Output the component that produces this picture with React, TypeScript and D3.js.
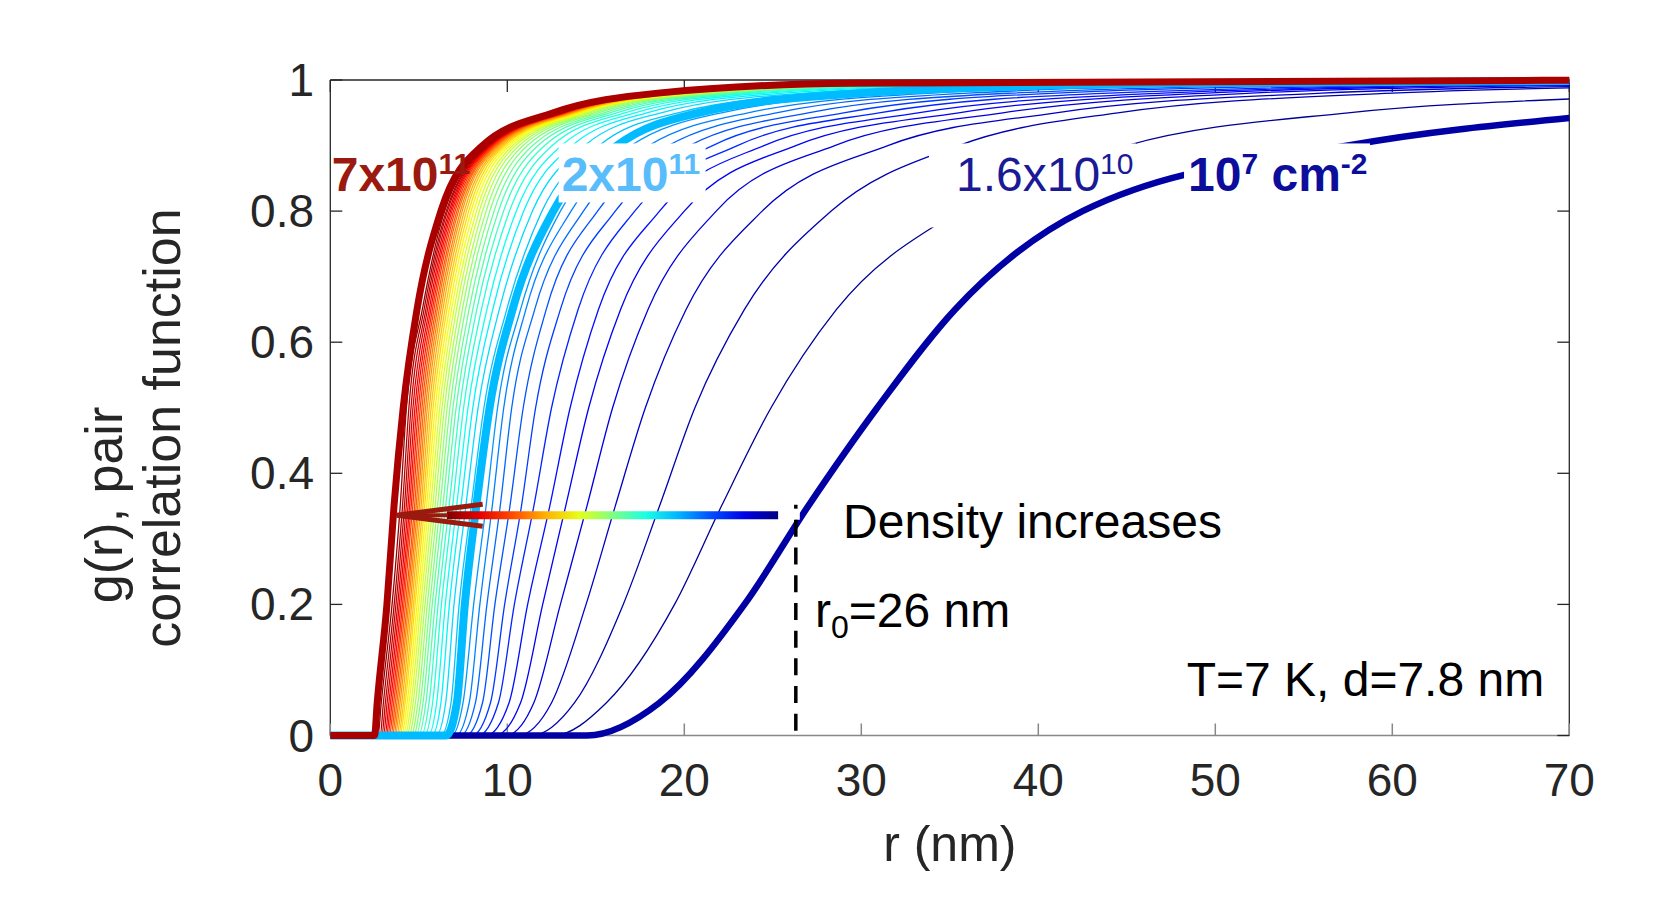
import React, { useEffect } from "react";
import { scaleLinear, line as d3line, curveMonotoneX } from "d3";

const W = 1656;
const H = 924;
const M = { left: 330.3, right: 1569.3, top: 80, bottom: 735.5 };
const FONT = '"Liberation Sans", Arial, Helvetica, sans-serif';
const INK = "#262626";

// One entry per density, from 10^7 cm^-2 (index 0) up to 7x10^11 cm^-2 (index 44).
// Each array gives the r (nm) at which a curve reaches the given g level.
const rOnset = [
  14.5, 12.6, 11.4, 10.6, 9.9, 9.3, 8.8, 8.35, 8.0, 7.65, 7.35, 7.1, 6.85, 6.55,
  6.25, 5.98, 5.74, 5.52, 5.32, 5.14, 4.98, 4.83, 4.7, 4.57, 4.44, 4.33, 4.23, 4.12, 4.02, 3.93,
  3.84, 3.75, 3.66, 3.58, 3.5, 3.42, 3.33, 3.25, 3.17, 3.09, 3.0, 2.91, 2.82, 2.7, 2.5,
];
const r05 = [
  18.6, 15.6, 13.8, 12.5, 11.5, 10.75, 10.1, 9.5, 9.05, 8.6, 8.2, 7.85, 7.5, 7.15,
  6.82, 6.52, 6.25, 6.01, 5.78, 5.58, 5.4, 5.24, 5.09, 4.95, 4.81, 4.68, 4.57, 4.45, 4.34, 4.23,
  4.14, 4.04, 3.94, 3.85, 3.76, 3.67, 3.58, 3.49, 3.4, 3.31, 3.21, 3.11, 3.0, 2.88, 2.65,
];
const r20 = [
  23.4, 19.45, 16.55, 14.45, 13.0, 12.0, 11.15, 10.4, 9.85, 9.3, 8.85, 8.45, 8.1, 7.6,
  7.28, 6.99, 6.73, 6.5, 6.28, 6.09, 5.92, 5.76, 5.62, 5.48, 5.35, 5.23, 5.11, 5.0, 4.9, 4.79,
  4.7, 4.6, 4.51, 4.42, 4.34, 4.25, 4.16, 4.08, 3.99, 3.9, 3.81, 3.71, 3.61, 3.49, 3.2,
];
const r35 = [
  27.0, 22.1, 18.6, 16.1, 14.5, 13.3, 12.4, 11.5, 10.8, 10.15, 9.6, 9.15, 8.8, 8.25,
  7.96, 7.66, 7.38, 7.14, 6.91, 6.71, 6.52, 6.36, 6.2, 6.06, 5.92, 5.79, 5.67, 5.55, 5.44, 5.33,
  5.23, 5.13, 5.03, 4.94, 4.85, 4.76, 4.66, 4.57, 4.48, 4.39, 4.29, 4.19, 4.08, 3.95, 3.6,
];
const r50 = [
  30.9, 24.9, 20.6, 17.8, 15.95, 14.6, 13.55, 12.5, 11.6, 10.9, 10.25, 9.8, 9.45, 9.0,
  8.68, 8.35, 8.05, 7.78, 7.53, 7.31, 7.11, 6.93, 6.76, 6.6, 6.45, 6.31, 6.18, 6.05, 5.93, 5.81,
  5.7, 5.59, 5.48, 5.38, 5.28, 5.18, 5.08, 4.98, 4.88, 4.78, 4.67, 4.56, 4.44, 4.3, 4.12,
];
const r65 = [
  35.3, 28.6, 23.4, 20.1, 17.95, 16.4, 15.15, 14.0, 13.0, 12.2, 11.55, 11.05, 10.75, 10.3,
  9.97, 9.55, 9.18, 8.85, 8.54, 8.28, 8.05, 7.84, 7.64, 7.46, 7.29, 7.13, 6.99, 6.85, 6.72, 6.59,
  6.48, 6.36, 6.25, 6.15, 6.05, 5.96, 5.86, 5.77, 5.68, 5.59, 5.49, 5.4, 5.3, 5.2, 4.9,
];
const r80 = [
  42.5, 35.5, 28.3, 24.4, 21.8, 20.0, 18.6, 17.2, 16.1, 15.1, 14.3, 13.6, 13.0, 12.6,
  11.96, 11.42, 10.93, 10.51, 10.12, 9.79, 9.5, 9.25, 9.01, 8.8, 8.6, 8.42, 8.26, 8.1, 7.95, 7.82,
  7.69, 7.57, 7.45, 7.35, 7.24, 7.15, 7.05, 6.96, 6.87, 6.79, 6.71, 6.62, 6.55, 6.46, 6.25,
];
const r90 = [
  57.5, 45.0, 35.5, 31.5, 28.5, 26.3, 24.5, 23.0, 21.6, 20.3, 19.1, 18.0, 17.0, 16.2,
  15.2, 14.37, 13.66, 13.06, 12.54, 12.11, 11.74, 11.43, 11.14, 10.89, 10.67, 10.47, 10.31, 10.14, 10.0, 9.86,
  9.75, 9.64, 9.53, 9.44, 9.36, 9.29, 9.22, 9.15, 9.09, 9.04, 8.99, 8.95, 8.91, 8.87, 8.6,
];
const r95 = [
  null, 57.5, 44.5, 41.0, 38.0, 35.5, 33.2, 31.0, 29.0, 27.0, 25.2, 23.6, 22.1, 20.8,
  19.64, 18.69, 17.88, 17.21, 16.64, 16.17, 15.78, 15.45, 15.15, 14.9, 14.67, 14.47, 14.3, 14.14, 14.0, 13.87,
  13.76, 13.66, 13.56, 13.48, 13.41, 13.34, 13.28, 13.23, 13.18, 13.14, 13.1, 13.06, 13.04, 13.01, 12.6,
];
const r98 = [
  null, null, 60.0, 56.0, 52.0, 49.5, 47.0, 44.0, 41.0, 38.5, 36.0, 34.0, 32.0, 30.0,
  28.22, 26.78, 25.59, 24.61, 23.79, 23.11, 22.55, 22.09, 21.68, 21.33, 21.04, 20.77, 20.54, 20.34, 20.16, 20.0,
  19.86, 19.73, 19.62, 19.52, 19.44, 19.36, 19.29, 19.23, 19.18, 19.13, 19.09, 19.06, 19.03, 19.01, 18.5,
];
const r995 = [
  null, null, null, null, null, null, null, null, 65.0, 61.0, 57.0, 54.0, 50.8, 47.6,
  44.8, 42.5, 40.6, 39.1, 37.8, 36.7, 35.8, 35.1, 34.4, 33.9, 33.4, 33.0, 32.6, 32.3, 32.0, 31.7,
  31.5, 31.3, 31.1, 31.0, 30.9, 30.7, 30.6, 30.5, 30.4, 30.4, 30.3, 30.2, 30.2, 30.2, 29.5,
];
// g(r) at r = 70 nm
const g70 = [
  0.942, 0.971, 0.988, 0.99, 0.992, 0.993, 0.994, 0.995, 0.996, 0.9965, 0.997, 0.9975, 0.998, 0.9984,
  0.999, 0.999, 0.999, 0.999, 0.999, 0.999, 0.999, 0.9993, 0.9993, 0.9993, 0.9993, 0.9993, 0.9993, 0.9993, 0.9993, 0.9993,
  0.9993, 0.9993, 0.9993, 0.9993, 0.9993, 0.9993, 0.9993, 0.9993, 0.9993, 0.9993, 0.9993, 0.9993, 0.9993, 0.9993, 0.9996,
];

const gLevels = [0.05, 0.2, 0.35, 0.5, 0.65, 0.8, 0.9, 0.95, 0.98, 0.995];
const crossings = [r05, r20, r35, r50, r65, r80, r90, r95, r98, r995];

const xTicks = [0, 10, 20, 30, 40, 50, 60, 70];
const yTicks = [0, 0.2, 0.4, 0.6, 0.8, 1];
const yTickLabels = ["0", "0.2", "0.4", "0.6", "0.8", "1"];

// highlighted curves: index -> stroke
const thick: Record<number, { color: string; width: number }> = {
  0: { color: "#0000A5", width: 6.5 },
  13: { color: "#00BBFF", width: 8 },
  44: { color: "#AA0000", width: 7 },
};

function jet(t: number) {
  const c = (v: number) => Math.round(255 * Math.max(0, Math.min(1, v)));
  return `rgb(${c(1.5 - Math.abs(4 * t - 3))},${c(1.5 - Math.abs(4 * t - 2))},${c(1.5 - Math.abs(4 * t - 1))})`;
}

function curvePoints(i: number): [number, number][] {
  const pts: [number, number][] = [[0, 0], [rOnset[i], 0]];
  gLevels.forEach((g, k) => {
    const r = crossings[k][i];
    if (r !== null && r < 70) pts.push([r, g]);
  });
  pts.push([70, g70[i]]);
  return pts;
}

export default function App() {
  useEffect(() => {
    document.body.style.margin = "0";
  }, []);

  const x = scaleLinear().domain([0, 70]).range([M.left, M.right]);
  const y = scaleLinear().domain([0, 1]).range([M.bottom, M.top]);
  const line = d3line<[number, number]>()
    .x((d) => x(d[0]))
    .y((d) => y(d[1]))
    .curve(curveMonotoneX);

  const n = rOnset.length;
  const order = [...Array(n).keys()].filter((i) => !(i in thick));
  const thickPath = (i: number) => (
    <path
      key={"t" + i}
      d={line(curvePoints(i)) ?? undefined}
      fill="none"
      stroke={thick[i].color}
      strokeWidth={thick[i].width}
      strokeLinejoin="round"
    />
  );

  // arrow, dashed marker
  const tipX = x(3.75);
  const barX0 = x(6.58);
  const barX1 = x(25.3);
  const ay = y(0.336);
  const r0 = 26.3;
  const gradStops = [0, 0.1, 0.2, 0.3, 0.4, 0.5, 0.6, 0.7, 0.8, 0.9, 1];

  const labelY = y(0.83);

  return (
    <svg width={W} height={H} style={{ position: "absolute", left: 0, top: 0 }} fontFamily={FONT}>
      <defs>
        <linearGradient id="jetBar" x1="0" y1="0" x2="1" y2="0">
          {gradStops.map((o) => (
            <stop key={o} offset={o} stopColor={jet(1 - o)} />
          ))}
        </linearGradient>
      </defs>
      <rect width={W} height={H} fill="#fff" />

      {/* axes box and ticks */}
      <line x1={M.left} x2={M.right} y1={M.top} y2={M.top} stroke={INK} strokeWidth={1.3} />
      <line x1={M.right} x2={M.right} y1={M.top} y2={M.bottom} stroke={INK} strokeWidth={1.3} />
      <line x1={M.left} x2={M.left} y1={M.top} y2={M.bottom} stroke={INK} strokeWidth={1.3} />
      <line x1={M.left} x2={M.right} y1={M.bottom} y2={M.bottom} stroke="#888" strokeWidth={1.5} />
      {xTicks.map((t) => (
        <g key={"xt" + t}>
          <line x1={x(t)} x2={x(t)} y1={M.bottom} y2={M.bottom - 12} stroke="#888" strokeWidth={1.5} />
          <line x1={x(t)} x2={x(t)} y1={M.top} y2={M.top + 12} stroke={INK} strokeWidth={1.3} />
        </g>
      ))}
      {yTicks.map((t) => (
        <g key={"yt" + t}>
          <line x1={M.left} x2={M.left + 12} y1={y(t)} y2={y(t)} stroke={INK} strokeWidth={1.3} />
          <line x1={M.right} x2={M.right - 12} y1={y(t)} y2={y(t)} stroke={INK} strokeWidth={1.3} />
        </g>
      ))}

      {/* thin curves */}
      {order.map((i) => (
        <path key={"c" + i} d={line(curvePoints(i)) ?? undefined} fill="none" stroke={jet(i / (n - 1))} strokeWidth={1.3} />
      ))}

      {/* 1.6x10^10 label sits under the 10^7 curve */}
      <rect x={929} y={labelY - 48} width={207} height={84} fill="#fff" />
      <text x={x(35.35)} y={labelY} fontSize={48} fill="#1A1A96">
        1.6x10<tspan fontSize={30} dy={-17}>10</tspan>
      </text>

      {/* highlighted curves */}
      {thickPath(0)}
      {thickPath(13)}
      {thickPath(44)}

      {/* curve labels */}
      <text x={x(0.08)} y={labelY} fontSize={48} fontWeight="bold" fill="#9B1A10">
        7x10<tspan fontSize={30} dy={-17}>11</tspan>
      </text>

      <rect x={x(13.07) - 3} y={labelY - 48} width={147} height={59} fill="#fff" />
      <text x={x(13.07)} y={labelY} fontSize={48} fontWeight="bold" fill="#58BDFA">
        2x10<tspan fontSize={30} dy={-17}>11</tspan>
      </text>

      <rect x={x(48.46) - 4} y={labelY - 48} width={186} height={59} fill="#fff" />
      <text x={x(48.46)} y={labelY} fontSize={48} fontWeight="bold" fill="#0D0D9B">
        10<tspan fontSize={30} dy={-17}>7</tspan>
        <tspan dy={17}> cm</tspan>
        <tspan fontSize={30} dy={-17}>-2</tspan>
      </text>

      {/* r0 marker */}
      <rect x={x(r0) - 12} y={y(0.352) + 2} width={16} height={13} fill="#fff" />
      <line x1={x(r0)} x2={x(r0)} y1={y(0.352)} y2={y(0.346)} stroke="#000" strokeWidth={3.5} />
      <line x1={x(r0)} x2={x(r0)} y1={y(0.329)} y2={M.bottom} stroke="#000" strokeWidth={3.5} strokeDasharray="17 10.7" />

      {/* density arrow */}
      <rect x={barX0} y={ay - 4} width={barX1 - barX0} height={8} fill="url(#jetBar)" />
      <line x1={tipX + 4} x2={barX0 + 1} y1={ay} y2={ay} stroke="#9B1A10" strokeWidth={4} />
      <polyline
        points={`${tipX + 86},${ay - 11} ${tipX},${ay} ${tipX + 86},${ay + 11}`}
        fill="none"
        stroke="#9B1A10"
        strokeWidth={5}
      />

      {/* annotations */}
      <text x={x(28.97)} y={y(0.301)} fontSize={48} fill="#000">
        Density increases
      </text>
      <text x={x(27.38)} y={y(0.166)} fontSize={48} fill="#000">
        r<tspan fontSize={32} dy={11}>0</tspan>
        <tspan dy={-11}>=26 nm</tspan>
      </text>
      <text x={x(48.38)} y={y(0.0607)} fontSize={48} fill="#000">
        T=7 K, d=7.8 nm
      </text>

      {/* tick labels */}
      {xTicks.map((t) => (
        <text key={"xl" + t} x={x(t)} y={796} fontSize={46} fill={INK} textAnchor="middle">
          {t}
        </text>
      ))}
      {yTicks.map((t, k) => (
        <text key={"yl" + t} x={314} y={y(t) + 16} fontSize={46} fill={INK} textAnchor="end">
          {yTickLabels[k]}
        </text>
      ))}

      {/* axis labels */}
      <text x={(M.left + M.right) / 2} y={861} fontSize={50} fill={INK} textAnchor="middle">
        r (nm)
      </text>
      <text transform="translate(122,505) rotate(-90)" fontSize={52} fill={INK} textAnchor="middle">
        g(r), pair
      </text>
      <text transform="translate(180,428) rotate(-90)" fontSize={52} fill={INK} textAnchor="middle">
        correlation function
      </text>
    </svg>
  );
}
